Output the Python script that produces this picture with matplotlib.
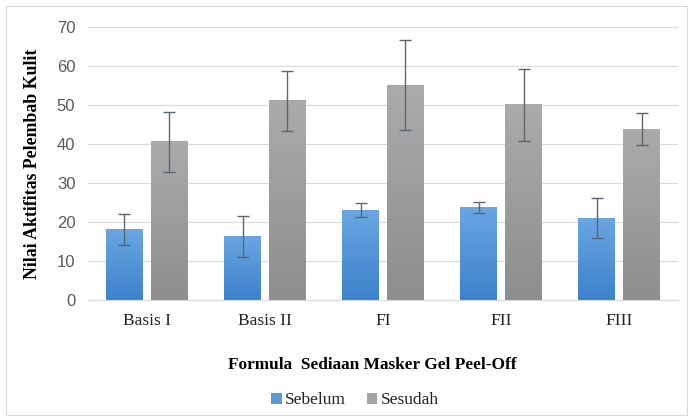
import matplotlib
matplotlib.use("Agg")
import matplotlib.pyplot as plt
import numpy as np
from matplotlib.patches import Patch, Rectangle
from matplotlib.colors import LinearSegmentedColormap

plt.rcParams["font.family"] = "serif"
plt.rcParams["font.serif"] = ["Liberation Serif", "DejaVu Serif"]

categories = ["Basis I", "Basis II", "FI", "FII", "FIII"]
sebelum = [18.0, 16.3, 23.0, 23.7, 21.0]
sebelum_err = [4.0, 5.3, 1.8, 1.4, 5.2]
sesudah = [40.5, 51.0, 55.0, 50.0, 43.8]
sesudah_err = [7.7, 7.8, 11.5, 9.2, 4.0]

blue_cmap = LinearSegmentedColormap.from_list("blue", ["#3d82cc", "#6aa6e2"])
gray_cmap = LinearSegmentedColormap.from_list("gray", ["#8e8e8e", "#ababab"])

fig = plt.figure(figsize=(6.92, 4.19), dpi=100)
ax = fig.add_axes([0.127, 0.284, 0.853, 0.652])
fig.patches.append(Rectangle((0.008, 0.01), 0.985, 0.975, transform=fig.transFigure,
                             fill=False, edgecolor="#d9d9d9", linewidth=0.8))

x = np.arange(len(categories))
w = 0.31
off = 0.19

def gradient_bars(bars, cmap):
    grad = np.linspace(0, 1, 256).reshape(-1, 1)
    for b in bars:
        b.set_facecolor("none")
        x0, h, bw = b.get_x(), b.get_height(), b.get_width()
        ax.imshow(grad, cmap=cmap, origin="lower", aspect="auto",
                  extent=(x0, x0 + bw, 0, h), zorder=2)

b1 = ax.bar(x - off, sebelum, w, linewidth=0, zorder=2)
b2 = ax.bar(x + off, sesudah, w, linewidth=0, zorder=2)
gradient_bars(b1, blue_cmap)
gradient_bars(b2, gray_cmap)

ax.errorbar(x - off, sebelum, yerr=sebelum_err, fmt="none", ecolor="#5b6673",
            elinewidth=1, capsize=4, capthick=1, zorder=3)
ax.errorbar(x + off, sesudah, yerr=sesudah_err, fmt="none", ecolor="#5b6673",
            elinewidth=1, capsize=4, capthick=1, zorder=3)

ax.set_xlim(-0.5, len(categories) - 0.5)
ax.set_ylim(0, 70)
ax.set_yticks(range(0, 71, 10))
ax.grid(True, axis="y", color="#d9d9d9", linewidth=0.8, zorder=0)
ax.set_axisbelow(True)
for s in ["top", "right", "left"]:
    ax.spines[s].set_visible(False)
ax.spines["bottom"].set_color("#d9d9d9")
ax.tick_params(length=0)
ax.tick_params(axis="y", labelsize=12, labelcolor="#595959", pad=9)
for lbl in ax.get_yticklabels():
    lbl.set_fontfamily("Liberation Sans")
ax.set_xticks(x)
ax.set_xticklabels(categories, fontsize=12.5, color="#222222")
ax.tick_params(axis="x", pad=9)

ax.set_ylabel("Nilai Aktifitas Pelembab Kulit", fontweight="bold",
              fontsize=12.8, labelpad=11)
ax.set_xlabel("Formula  Sediaan Masker Gel Peel-Off", fontweight="bold", fontsize=12.4)
ax.xaxis.set_label_coords(0.481, -0.21)

handles = [Patch(facecolor="#5b9bd5", label="Sebelum"),
           Patch(facecolor="#a5a5a5", label="Sesudah")]
leg = fig.legend(handles=handles, loc="center", bbox_to_anchor=(0.513, 0.045), ncol=2,
                 frameon=False, fontsize=12.5, handlelength=0.6, handleheight=0.6,
                 handletextpad=0.2, columnspacing=1.2, labelcolor="#222222")

fig.savefig("out.png", dpi=100)
